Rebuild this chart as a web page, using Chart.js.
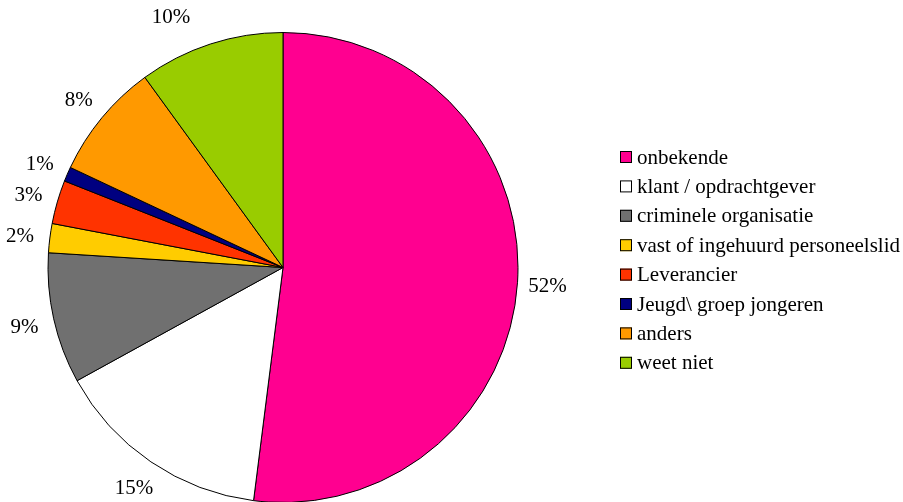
<!DOCTYPE html>
<html lang="nl">
<head>
  <meta charset="UTF-8">
  <title>Daders</title>
  <script src="https://cdn.jsdelivr.net/npm/chart.js"></script>
  <style>
    body { margin: 0; background: #fff; }
    #wrap { width: 903px; height: 502px; }
  </style>
</head>
<body>
  <div id="wrap"><canvas id="pieChart" width="903" height="502"></canvas></div>

  <script>
    const categories = [
      "onbekende",
      "klant / opdrachtgever",
      "criminele organisatie",
      "vast of ingehuurd personeelslid",
      "Leverancier",
      "Jeugd\\ groep jongeren",
      "anders",
      "weet niet"
    ];
    const shares = [52, 15, 9, 2, 3, 1, 8, 10];
    const sliceColors = ["#FF0090", "#FFFFFF", "#707070", "#FFCC00", "#FF3300", "#000080", "#FF9900", "#99CC00"];

    const FONT = '21px "Liberation Serif", "Times New Roman", serif';

    // percentage labels outside the pie + legend at right
    const labelsPlugin = {
      id: "labelsPlugin",
      afterDraw(chart) {
        const ctx = chart.ctx;
        const meta = chart.getDatasetMeta(0);
        ctx.save();
        ctx.font = FONT;
        ctx.fillStyle = "#000";
        ctx.textAlign = "center";
        ctx.textBaseline = "middle";
        meta.data.forEach((arc, i) => {
          const mid = (arc.startAngle + arc.endAngle) / 2;
          let r = arc.outerRadius + 30;
          let dx = 0;
          if (i === categories.length - 1) dx = -30;
          ctx.fillText(shares[i] + "%", arc.x + Math.cos(mid) * r + dx, arc.y + Math.sin(mid) * r + 2);
        });

        // legend
        const lx = 620, ly = 157, step = 29.4;
        ctx.textAlign = "left";
        categories.forEach((name, i) => {
          const y = ly + i * step;
          ctx.fillStyle = sliceColors[i];
          ctx.fillRect(lx, y - 6, 12, 12);
          ctx.strokeStyle = "#000";
          ctx.lineWidth = 1;
          ctx.strokeRect(lx + 0.5, y - 5.5, 11, 11);
          ctx.fillStyle = "#000";
          ctx.fillText(name, lx + 17, y + 1);
        });
        ctx.restore();
      }
    };

    new Chart(document.getElementById("pieChart"), {
      type: "pie",
      data: {
        labels: categories,
        datasets: [{
          data: shares,
          backgroundColor: sliceColors,
          borderColor: "#000",
          borderWidth: 1,
          radius: 235
        }]
      },
      options: {
        responsive: false,
        animation: false,
        layout: { padding: { left: 48, right: 385, top: 33, bottom: 0 } },
        plugins: {
          legend: { display: false },
          tooltip: { enabled: false }
        }
      },
      plugins: [labelsPlugin]
    });
  </script>
</body>
</html>
